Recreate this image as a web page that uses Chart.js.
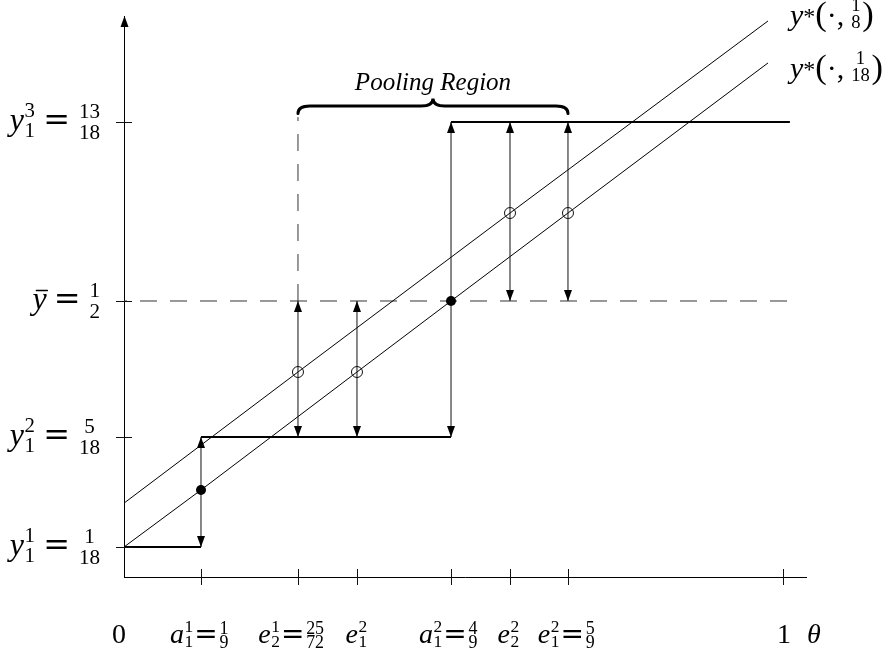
<!DOCTYPE html>
<html>
<head>
<meta charset="utf-8">
<title>Pooling region</title>
<script src="https://cdn.jsdelivr.net/npm/chart.js@4.4.1/dist/chart.umd.min.js"></script>
<style>
  html, body { margin: 0; padding: 0; background: #fff; }
  canvas { display: block; }
</style>
</head>
<body>
<canvas id="chart" width="892" height="661"></canvas>
<script>
// ---- values -------------------------------------------------------------
// marked types on the θ axis
const A11 = 1 / 9, E21 = 25 / 72, E12 = 0.385, A12 = 4 / 9, E22 = 0.5, E12B = 5 / 9;
const THETA_TICKS = [0, A11, E21, E12, A12, E22, E12B, 1];
// allocation levels on the vertical axis
const Y1 = 1 / 18, Y2 = 5 / 18, YBAR = 1 / 2, Y3 = 13 / 18;
const Y_TICKS = [Y1, Y2, YBAR, Y3];

// math pieces for the tick labels
const THETA_LABELS = [
  [{ t: '0' }],
  [{ t: 'a', i: 1 }, { sup: '1', sub: '1' }, { t: '=', fam: 'sym' }, { frac: ['1', '9'] }],
  [{ t: 'e', i: 1 }, { sup: '1', sub: '2' }, { t: '=', fam: 'sym' }, { frac: ['25', '72'] }],
  [{ t: 'e', i: 1 }, { sup: '2', sub: '1' }],
  [{ t: 'a', i: 1 }, { sup: '2', sub: '1' }, { t: '=', fam: 'sym' }, { frac: ['4', '9'] }],
  [{ t: 'e', i: 1 }, { sup: '2', sub: '2' }],
  [{ t: 'e', i: 1 }, { sup: '2', sub: '1' }, { t: '=', fam: 'sym' }, { frac: ['5', '9'] }],
  [{ t: '1' }]
];
const Y_LABELS = [
  [{ t: 'y', i: 1 }, { sup: '1', sub: '1' }, { gap: 0.22 }, { t: '=', fam: 'sym' }, { gap: 0.22 }, { frac: ['1', '18'] }],
  [{ t: 'y', i: 1 }, { sup: '2', sub: '1' }, { gap: 0.22 }, { t: '=', fam: 'sym' }, { gap: 0.22 }, { frac: ['5', '18'] }],
  [{ t: 'y', i: 1, bar: 1 }, { gap: 0.22 }, { t: '=', fam: 'sym' }, { gap: 0.22 }, { frac: ['1', '2'] }],
  [{ t: 'y', i: 1 }, { sup: '3', sub: '1' }, { gap: 0.22 }, { t: '=', fam: 'sym' }, { gap: 0.22 }, { frac: ['13', '18'] }]
];

// y*(θ, 1/18)
const LOW_THETA = [0, A11, E12, A12, E12B, 0.969];
const LOW_Y = [Y1, 1 / 6, 7 / 18, YBAR, 11 / 18, 0.877];
// y*(θ, 1/8)
const HIGH_THETA = [0, E21, E22, 0.969];
const HIGH_Y = [0.141, 7 / 18, 11 / 18, 0.987];

// step allocation
const STEP_FROM = [0, A11, A12];
const STEP_TO = [A11, A12, 1.015];
const STEP_Y = [Y1, Y2, Y3];

// two-headed vertical arrows
const ARROW_THETA = [A11, E21, E12, A12, E22, E12B];
const ARROW_LO = [Y1, Y2, Y2, Y2, YBAR, YBAR];
const ARROW_HI = [Y2, YBAR, YBAR, Y3, Y3, Y3];

// marked points
const SOLID_THETA = [A11, A12];
const SOLID_Y = [1 / 6, YBAR];
const OPEN_THETA = [E21, E12, E22, E12B];
const OPEN_Y = [7 / 18, 7 / 18, 11 / 18, 11 / 18];

// reference lines and the pooling interval
const YBAR_END = 1.025;
const POOL_FROM = E21, POOL_TO = E12B, POOL_LEVEL = 0.764, POOL_DASH_TOP = 0.735;

// ---- a scale that places given values at given fractions of its length ---
class PiecewiseScale extends Chart.LinearScale {
  _toDecimal(v) {
    const vs = this.options.breakValues, ps = this.options.breakAt;
    let i = 1;
    while (i < vs.length - 1 && v > vs[i]) i++;
    const t = (v - vs[i - 1]) / (vs[i] - vs[i - 1]);
    return ps[i - 1] + t * (ps[i] - ps[i - 1]);
  }
  _fromDecimal(d) {
    const vs = this.options.breakValues, ps = this.options.breakAt;
    let i = 1;
    while (i < ps.length - 1 && d > ps[i]) i++;
    const t = (d - ps[i - 1]) / (ps[i] - ps[i - 1]);
    return vs[i - 1] + t * (vs[i] - vs[i - 1]);
  }
  getPixelForValue(value) {
    if (value === null || value === undefined || Number.isNaN(value)) return NaN;
    return this.getPixelForDecimal(this._toDecimal(value));
  }
  getValueForPixel(pixel) {
    return this._fromDecimal(this.getDecimalForPixel(pixel));
  }
}
PiecewiseScale.id = 'piecewise';
PiecewiseScale.defaults = Chart.LinearScale.defaults;
Chart.register(PiecewiseScale);

// ---- small math typesetter for canvas labels ----------------------------
const SERIF = '"Liberation Serif", "Times New Roman", serif';
const SYM = '"DejaVu Serif", serif';
function fontOf(px, italic, fam) {
  return (italic ? 'italic ' : '') + px.toFixed(1) + 'px ' + (fam === 'sym' ? SYM : SERIF);
}
function layoutMath(ctx, pieces, st) {
  const ops = [];
  let x = 0;
  const put = (t, px, italic, fam, dx, dy) => {
    ctx.font = fontOf(px, italic, fam);
    const w = ctx.measureText(t).width;
    ops.push({ t, font: ctx.font, x: dx, y: dy });
    return w;
  };
  for (const p of pieces) {
    if (p.gap) {
      x += p.gap * st.size;
    } else if (p.t !== undefined) {
      const w = put(p.t, st.size * (p.scale || 1), p.i, p.fam, x, (p.dy || 0) * st.size);
      if (p.bar) ops.push({ line: true, x1: x + 0.12 * st.size, x2: x + w + 0.02 * st.size, y: -0.58 * st.size, lw: st.size * 0.045 });
      x += w;
    } else if (p.sup !== undefined || p.sub !== undefined) {
      const fs = st.size * st.script;
      let w = 0;
      if (p.sup) w = Math.max(w, put(p.sup, fs, false, null, x + 0.02 * st.size, -st.supUp * st.size));
      if (p.sub) w = Math.max(w, put(p.sub, fs, false, null, x + 0.02 * st.size, st.subDown * st.size));
      x += w + 0.06 * st.size;
    } else if (p.frac) {
      const fs = st.size * st.frac;
      ctx.font = fontOf(fs, false);
      const wn = ctx.measureText(p.frac[0]).width, wd = ctx.measureText(p.frac[1]).width;
      const w = Math.max(wn, wd), pad = 0.06 * st.size;
      put(p.frac[0], fs, false, null, x + pad + (w - wn) / 2, -st.numUp * st.size);
      put(p.frac[1], fs, false, null, x + pad + (w - wd) / 2, st.denDown * st.size);
      x += w + 2 * pad;
    }
  }
  return { ops, width: x };
}
function drawMath(ctx, pieces, st, x, baseline, align) {
  const L = layoutMath(ctx, pieces, st);
  const x0 = align === 'right' ? x - L.width : align === 'center' ? x - L.width / 2 : x;
  ctx.fillStyle = '#000';
  ctx.strokeStyle = '#000';
  ctx.textAlign = 'left';
  ctx.textBaseline = 'alphabetic';
  for (const o of L.ops) {
    if (o.line) {
      ctx.lineWidth = o.lw;
      ctx.beginPath();
      ctx.moveTo(x0 + o.x1, baseline + o.y);
      ctx.lineTo(x0 + o.x2, baseline + o.y);
      ctx.stroke();
    } else {
      ctx.font = o.font;
      ctx.fillText(o.t, x0 + o.x, baseline + o.y);
    }
  }
}

const X_STYLE = { size: 28, script: 0.62, supUp: 0.40, subDown: 0.15, frac: 0.64, numUp: 0.33, denDown: 0.17 };
const Y_STYLE = { size: 32, script: 0.65, supUp: 0.40, subDown: 0.22, frac: 0.66, numUp: 0.375, denDown: 0.27 };
const R_STYLE = { size: 30, script: 0.65, supUp: 0.40, subDown: 0.2, frac: 0.62, numUp: 0.45, denDown: 0.1 };
const LABEL_NUDGE = [-5, -1, -6, 0, -2, -1, -1, 1];

function arrowHead(ctx, x, yTip, dir) {
  const L = 11, W = 4;
  ctx.beginPath();
  ctx.moveTo(x, yTip);
  ctx.lineTo(x - W, yTip - dir * L);
  ctx.lineTo(x + W, yTip - dir * L);
  ctx.closePath();
  ctx.fill();
}

function brace(ctx, x1, x2, yMid, h) {
  const xm = (x1 + x2) / 2, r = 12;
  ctx.beginPath();
  ctx.moveTo(x1, yMid + h);
  ctx.quadraticCurveTo(x1, yMid, x1 + r, yMid);
  ctx.lineTo(xm - r, yMid);
  ctx.quadraticCurveTo(xm, yMid, xm, yMid - h);
  ctx.quadraticCurveTo(xm, yMid, xm + r, yMid);
  ctx.lineTo(x2 - r, yMid);
  ctx.quadraticCurveTo(x2, yMid, x2, yMid + h);
  ctx.stroke();
}

const annotate = {
  id: 'annotate',
  afterDatasetsDraw(chart) {
    const { ctx, chartArea: area, scales: { x, y } } = chart;
    ctx.save();

    // tick marks crossing both axes
    ctx.strokeStyle = '#111';
    ctx.lineWidth = 1;
    ctx.beginPath();
    THETA_TICKS.forEach(v => {
      if (v === 0) return;
      const px = Math.round(x.getPixelForValue(v)) + 0.5;
      ctx.moveTo(px, area.bottom - 8);
      ctx.lineTo(px, area.bottom + 8);
    });
    Y_TICKS.forEach(v => {
      const py = Math.round(y.getPixelForValue(v)) + 0.5;
      ctx.moveTo(area.left - 8, py);
      ctx.lineTo(area.left + 8, py);
    });
    ctx.stroke();

    // arrow on top of the vertical axis
    ctx.fillStyle = '#000';
    arrowHead(ctx, area.left + 0.5, area.top, -1);

    // heads of the two-sided arrows
    ARROW_THETA.forEach((v, i) => {
      const px = x.getPixelForValue(v);
      arrowHead(ctx, px, y.getPixelForValue(ARROW_HI[i]), -1);
      arrowHead(ctx, px, y.getPixelForValue(ARROW_LO[i]), 1);
    });

    // brace over the pooling interval
    const bx1 = x.getPixelForValue(POOL_FROM), bx2 = x.getPixelForValue(POOL_TO);
    const by = y.getPixelForValue(POOL_LEVEL);
    ctx.strokeStyle = '#000';
    ctx.lineWidth = 3;
    ctx.lineCap = 'round';
    brace(ctx, bx1, bx2, by, 7.5);
    ctx.font = 'italic 25px ' + SERIF;
    ctx.textAlign = 'center';
    ctx.textBaseline = 'alphabetic';
    ctx.fillText('Pooling Region', (bx1 + bx2) / 2, by - 16);

    // tick labels
    THETA_TICKS.forEach((v, i) => {
      drawMath(ctx, THETA_LABELS[i], X_STYLE, x.getPixelForValue(v) + LABEL_NUDGE[i], area.bottom + 66, 'center');
    });
    drawMath(ctx, [{ t: 'θ', i: 1 }], X_STYLE, area.right + 8, area.bottom + 66, 'center');
    Y_TICKS.forEach((v, i) => {
      drawMath(ctx, Y_LABELS[i], Y_STYLE, 102, y.getPixelForValue(v) + 8, 'right');
    });

    // curve names at the end of the two lines
    const lx = x.getPixelForValue(LOW_THETA[LOW_THETA.length - 1]) + 22;
    const nameOf = f => [{ t: 'y', i: 1 }, { t: '*', scale: 0.8, dy: -0.04 }, { t: '(', scale: 1.15 },
      { t: '·' }, { t: ',' }, { gap: 0.17 }, { frac: ['1', f] }, { t: ')', scale: 1.15 }];
    drawMath(ctx, nameOf('8'), R_STYLE, lx, y.getPixelForValue(HIGH_Y[HIGH_Y.length - 1]) + 4, 'left');
    drawMath(ctx, nameOf('18'), R_STYLE, lx, y.getPixelForValue(LOW_Y[LOW_Y.length - 1]) + 15, 'left');

    ctx.restore();
  }
};

// ---- datasets -----------------------------------------------------------
const zipXY = (xs, ys) => xs.map((v, i) => ({ x: v, y: ys[i] }));
const stepData = STEP_FROM.flatMap((v, i) => [
  { x: v, y: STEP_Y[i] }, { x: STEP_TO[i], y: STEP_Y[i] }, { x: STEP_TO[i], y: null }
]);
const arrowData = ARROW_THETA.flatMap((v, i) => [
  { x: v, y: ARROW_LO[i] }, { x: v, y: ARROW_HI[i] }, { x: v, y: null }
]);
const lineBase = { showLine: true, pointRadius: 0, borderColor: '#000', fill: false, clip: false, tension: 0 };

const datasets = [
  { label: 'separating points', data: zipXY(OPEN_THETA, OPEN_Y), showLine: false, pointRadius: 5.5,
    pointBackgroundColor: 'rgba(0,0,0,0)', pointBorderColor: '#111', pointBorderWidth: 1, clip: false },
  { label: 'pooling points', data: zipXY(SOLID_THETA, SOLID_Y), showLine: false, pointRadius: 5,
    pointBackgroundColor: '#000', pointBorderWidth: 0, clip: false },
  { ...lineBase, label: 'allocation', data: stepData, borderWidth: 2, spanGaps: false },
  { ...lineBase, label: 'arrows', data: arrowData, borderWidth: 1, borderColor: '#111', spanGaps: false },
  { ...lineBase, label: 'y*(·,1/18)', data: zipXY(LOW_THETA, LOW_Y), borderWidth: 1 },
  { ...lineBase, label: 'y*(·,1/8)', data: zipXY(HIGH_THETA, HIGH_Y), borderWidth: 1 },
  { ...lineBase, label: 'ybar', data: [{ x: 0, y: YBAR }, { x: YBAR_END, y: YBAR }], borderWidth: 1,
    borderColor: '#333', borderDash: [17, 13], borderDashOffset: 14 },
  { ...lineBase, label: 'pool edge', data: [{ x: POOL_FROM, y: YBAR }, { x: POOL_FROM, y: POOL_DASH_TOP }], borderWidth: 1,
    borderColor: '#333', borderDash: [17, 13] }
];

new Chart(document.getElementById('chart'), {
  type: 'scatter',
  data: { datasets },
  options: {
    responsive: false,
    animation: false,
    devicePixelRatio: 1,
    events: [],
    layout: { padding: { left: 124, right: 86, top: 16, bottom: 84 } },
    plugins: { legend: { display: false }, tooltip: { enabled: false } },
    scales: {
      x: {
        type: 'piecewise', position: 'bottom', min: 0, max: 1.05,
        breakValues: [0, A11, E21, E12, A12, E22, E12B, 1, 1.05],
        breakAt: [0, 0.1129, 0.2551, 0.3416, 0.4795, 0.5660, 0.6510, 0.9663, 1],
        grid: { display: false, drawTicks: false },
        border: { display: true, color: '#000', width: 1 },
        ticks: { display: false },
        afterBuildTicks: s => { s.ticks = THETA_TICKS.map(v => ({ value: v })); }
      },
      y: {
        type: 'piecewise', position: 'left', min: 0, max: 1,
        breakValues: [0, Y1, 1 / 6, Y2, 7 / 18, YBAR, 11 / 18, Y3, 1],
        breakAt: [0, 0.0535, 0.1551, 0.2496, 0.3654, 0.4920, 0.6488, 0.8111, 1],
        grid: { display: false, drawTicks: false },
        border: { display: true, color: '#000', width: 1 },
        ticks: { display: false },
        afterBuildTicks: s => { s.ticks = Y_TICKS.map(v => ({ value: v })); }
      }
    }
  },
  plugins: [annotate]
});
</script>
</body>
</html>
